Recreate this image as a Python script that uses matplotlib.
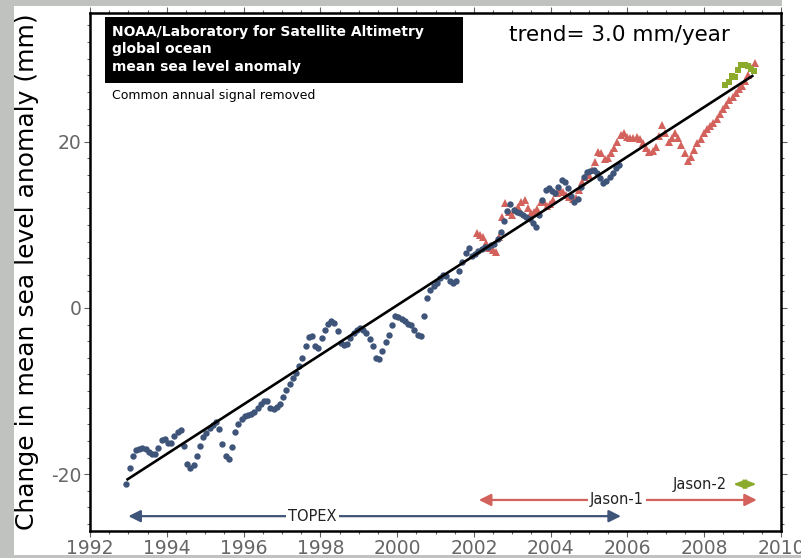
import matplotlib
matplotlib.use("Agg")
import matplotlib.pyplot as plt
import numpy as np
from matplotlib.patches import Rectangle
from matplotlib.ticker import MultipleLocator

plt.rcParams['axes.unicode_minus'] = False

# ---------------- data ----------------
STEP = 1.0 / 12.0  # monthly sampling (years)

topex_start = 1992.95
topex_values = [
    -21.2, -19.3, -17.8, -17.1, -17.0, -16.9, -17.0, -17.3, -17.6, -17.6, -16.8, -15.9,
    -15.8, -16.2, -16.2, -15.4, -14.9, -14.7, -16.6, -18.8, -19.3, -18.9, -17.8, -16.6,
    -15.5, -15.0, -14.5, -14.1, -13.7, -14.6, -16.4, -17.8, -18.2, -16.7, -14.9, -13.9,
    -13.3, -13.0, -12.9, -12.8, -12.5, -12.0, -11.6, -11.2, -11.2, -12.0, -12.2, -11.9,
    -11.5, -10.7, -9.9, -9.1, -8.4, -7.8, -7.0, -6.0, -4.6, -3.5, -3.4, -4.6,
    -4.8, -3.6, -2.6, -1.9, -1.6, -1.8, -2.8, -4.2, -4.5, -4.3, -3.6, -3.0,
    -2.6, -2.4, -2.6, -3.0, -3.7, -4.6, -6.0, -6.1, -5.2, -4.1, -3.3, -2.0,
    -1.0, -1.1, -1.3, -1.6, -1.9, -2.1, -2.6, -3.2, -3.4, -1.0, 1.2, 2.2,
    2.6, 3.0, 3.6, 4.0, 3.8, 3.3, 3.0, 3.3, 4.4, 5.5, 6.6, 7.2,
    6.3, 6.5, 6.9, 7.1, 7.3, 7.4, 7.6, 7.7, 8.3, 9.2, 10.5, 11.7,
    12.5, 11.8, 11.6, 11.4, 11.2, 11.0, 10.7, 10.2, 9.7, 11.2, 13.0, 14.2,
    14.4, 14.1, 13.8, 14.6, 15.4, 15.2, 14.5, 13.5, 12.8, 13.1, 14.6, 15.8,
    16.4, 16.5, 16.6, 16.2, 15.6, 15.0, 15.3, 15.8, 16.3, 16.8, 17.2,
]

jason1_start = 2002.07
jason1_values = [
    9.0, 8.8, 8.6, 7.8, 7.2, 7.0, 6.7, 8.5, 11.0, 12.6, 11.5, 11.2,
    11.8, 12.2, 12.8, 13.0, 12.0, 11.4, 11.5, 11.9, 12.7, 12.8, 12.3, 12.5,
    13.0, 13.8, 14.2, 13.9, 13.6, 13.3, 13.1, 13.2, 14.2, 15.2, 15.8, 16.0,
    16.6, 17.6, 18.8, 18.7, 17.9, 18.0, 18.6, 19.3, 20.0, 20.8, 21.0, 20.6,
    20.4, 20.5, 20.6, 20.3, 19.8, 19.2, 18.8, 18.9, 19.4, 20.7, 22.0, 21.0,
    20.0, 20.5, 21.0, 20.4, 19.6, 18.7, 17.7, 18.2, 19.0, 19.8, 20.3, 21.1,
    21.5, 21.9, 22.3, 22.7, 23.3, 23.9, 24.4, 25.0, 25.4, 25.9, 26.3, 26.7,
    27.3, 28.0, 28.9, 29.5,
]

jason2_start = 2008.55
jason2_values = [26.8, 27.2, 27.9, 27.8, 28.6, 29.2, 29.3, 29.1, 28.8, 28.5]

trend_years = [1992.95, 2009.28]
trend_values = [-20.7, 28.0]

mission_names = ["TOPEX", "Jason-1", "Jason-2"]
mission_start = [1993.0, 2002.13, 2008.75]
mission_end = [2005.83, 2009.37, 2009.37]

x_ticks = [1992, 1994, 1996, 1998, 2000, 2002, 2004, 2006, 2008, 2010]
y_ticks = [-20, 0, 20]

# ---------------- style ----------------
BLUE = "#3f5479"
RED = "#d3625c"
GREEN = "#8cab2c"
GRAY_BG = "#c0c2c0"
TICK_GRAY = "#606060"

W, H = 801, 558
fig = plt.figure(figsize=(W / 100, H / 100), dpi=100, facecolor="white")

# gray frame strips
fig.patches.append(Rectangle((0, 0), 14 / W, 1, transform=fig.transFigure,
                             facecolor=GRAY_BG, edgecolor="none", zorder=-10))
fig.patches.append(Rectangle((0, 1 - 6 / H), 782 / W, 6 / H, transform=fig.transFigure,
                             facecolor=GRAY_BG, edgecolor="none", zorder=-10))
fig.patches.append(Rectangle((0, 0), 1, 3 / H, transform=fig.transFigure,
                             facecolor=GRAY_BG, edgecolor="none", zorder=-10))

ax_l, ax_r, ax_t, ax_b = 90, 781, 13, 530.7
ax = fig.add_axes([ax_l / W, (H - ax_b) / H, (ax_r - ax_l) / W, (ax_b - ax_t) / H])

def years(start, vals):
    return start + STEP * np.arange(len(vals))

ax.plot(years(topex_start, topex_values), topex_values, linestyle="none",
        marker="o", markersize=4.6, color=BLUE, markeredgewidth=0, zorder=3)
ax.plot(years(jason1_start, jason1_values), jason1_values, linestyle="none",
        marker="^", markersize=5.2, color=RED, markeredgewidth=0, zorder=2)
ax.plot(years(jason2_start, jason2_values), jason2_values, linestyle="none",
        marker="s", markersize=4.2, color=GREEN, markeredgewidth=0, zorder=4)
ax.plot(trend_years, trend_values, color="black", lw=1.9, zorder=5,
        solid_capstyle="butt")

ax.set_xlim(1992, 2010)
ax.set_ylim(-26.8, 35.5)
ax.set_xticks(x_ticks)
ax.set_yticks(y_ticks)
ax.xaxis.set_minor_locator(MultipleLocator(0.5))
ax.yaxis.set_minor_locator(MultipleLocator(2))
ax.tick_params(which="both", direction="out", top=True, right=True,
               color=TICK_GRAY, width=0.8)
ax.tick_params(which="major", length=4)
ax.tick_params(which="minor", length=2.5)
ax.tick_params(labelsize=13.5, labelcolor="#666666", pad=2)
for sp in ax.spines.values():
    sp.set_linewidth(1.8)
    sp.set_color("black")

# mission arrows
mission_y = [-25.05, -23.1, -21.2]
mission_colors = [BLUE, RED, GREEN]
for name, s, e, yv, c in zip(mission_names, mission_start, mission_end, mission_y, mission_colors):
    hw = 0.3 if name != "Jason-2" else 0.22
    ax.annotate("", xy=(e, yv), xytext=(s, yv),
                arrowprops=dict(arrowstyle=f"<|-|>,head_length=0.6,head_width={hw}",
                                color=c, lw=1.6, shrinkA=0, shrinkB=0,
                                mutation_scale=12), zorder=4)

label_kw = dict(fontsize=10.5, color="#222222", va="center", zorder=6)
ax.text(1997.8, mission_y[0], mission_names[0], ha="center",
        bbox=dict(facecolor="white", edgecolor="none", pad=1.5), **label_kw)
ax.text(2005.72, mission_y[1], mission_names[1], ha="center",
        bbox=dict(facecolor="white", edgecolor="none", pad=1.5), **label_kw)
ax.text(2008.6, mission_y[2], mission_names[2], ha="right", **label_kw)

# title box
ax.add_patch(Rectangle((15 / 691, (ax_b - 83) / (ax_b - ax_t)), (463 - 105) / 691,
                       (83 - 17) / (ax_b - ax_t), transform=ax.transAxes,
                       facecolor="black", edgecolor="none", zorder=6))
title_lines = ["NOAA/Laboratory for Satellite Altimetry", "global ocean",
               "mean sea level anomaly"]
for i, (line, py) in enumerate(zip(title_lines, [32, 49, 67])):
    ax.text(22 / 691, (ax_b - py) / (ax_b - ax_t), line, transform=ax.transAxes,
            color="white", fontsize=10, fontweight="bold", va="center", ha="left",
            zorder=7)
ax.text(22 / 691, (ax_b - 95) / (ax_b - ax_t), "Common annual signal removed",
        transform=ax.transAxes, color="black", fontsize=9, va="center", ha="left",
        zorder=7)
ax.text((619 - ax_l) / 691, (ax_b - 35) / (ax_b - ax_t), "trend= 3.0 mm/year",
        transform=ax.transAxes, color="black", fontsize=15.5, va="center",
        ha="center", zorder=7)

fig.text(27 / W, 1 - 272 / H, "Change in mean sea level anomaly (mm)", rotation=90,
         fontsize=18, color="black", ha="center", va="center")

fig.savefig("out.png", dpi=100, facecolor=fig.get_facecolor())
